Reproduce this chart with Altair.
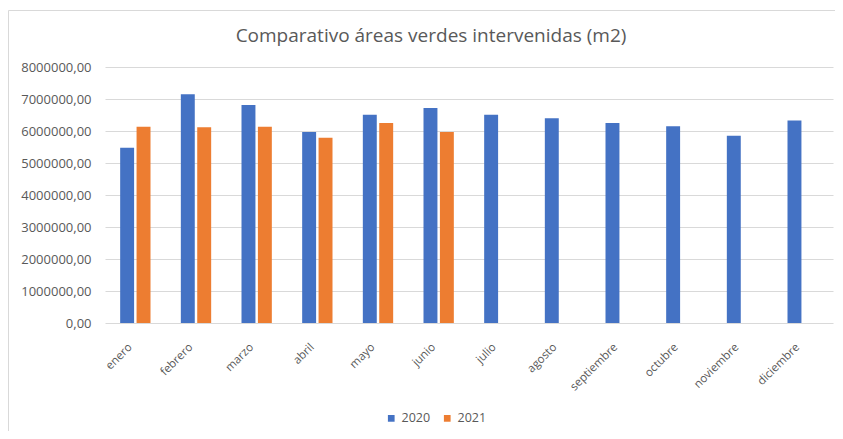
import altair as alt
import pandas as pd

months = ["enero", "febrero", "marzo", "abril", "mayo", "junio", "julio",
          "agosto", "septiembre", "octubre", "noviembre", "diciembre"]
v2020 = [5480000, 7150000, 6810000, 5970000, 6510000, 6720000, 6510000,
         6400000, 6250000, 6150000, 5850000, 6330000]
v2021 = [6130000, 6120000, 6130000, 5790000, 6250000, 5970000]

rows = []
for m, v in zip(months, v2020):
    rows.append({"mes": m, "serie": "2020", "valor": v})
for m, v in zip(months, v2021):
    rows.append({"mes": m, "serie": "2021", "valor": v})
df = pd.DataFrame(rows)

FONT = "Open Sans"
GRAY = "#595959"

bars = alt.Chart(df).mark_bar().encode(
    x=alt.X("mes:N", sort=months, title=None,
            scale=alt.Scale(paddingInner=0.5, paddingOuter=0.25),
            axis=alt.Axis(labelAngle=-45, labelAlign="right", labelBaseline="top",
                          ticks=False, domain=False, labelOffset=-9,
                          labelColor=GRAY, labelFontSize=11.5, labelFont=FONT,
                          labelPadding=18)),
    xOffset=alt.XOffset("serie:N", scale=alt.Scale(paddingInner=0.15)),
    y=alt.Y("valor:Q", title=None,
            scale=alt.Scale(domain=[0, 8000000]),
            axis=alt.Axis(values=[i * 1000000 for i in range(9)],
                          labelExpr="replace(format(datum.value, '.2f'), '.', ',')",
                          ticks=False, domain=False, gridColor="#D9D9D9",
                          labelColor=GRAY, labelFontSize=13, labelFont=FONT,
                          labelPadding=14)),
    color=alt.Color("serie:N",
                    scale=alt.Scale(domain=["2020", "2021"], range=["#4472C4", "#ED7D31"]),
                    legend=alt.Legend(title=None, orient="none", direction="horizontal",
                                      legendX=280, legendY=345, symbolType="square",
                                      symbolSize=45, labelColor=GRAY, labelFontSize=12.5,
                                      labelFont=FONT, columnPadding=10, symbolStrokeWidth=0)),
)

frame = alt.Chart(pd.DataFrame({"k": [0]})).mark_rect(
    fill=None, stroke="#D9D9D9", strokeWidth=1
).encode(
    x=alt.value(-96.5), x2=alt.value(780), y=alt.value(-56.5), y2=alt.value(420)
)

chart = alt.layer(frame, bars).properties(
    width=728, height=256,
    title=alt.TitleParams("Comparativo áreas verdes intervenidas (m2)", fontSize=19,
                          font=FONT, fontWeight="normal", color=GRAY, dx=-38, offset=-36,
                          frame="group"),
    autosize=alt.AutoSizeParams(type="none"),
    padding={"left": 97, "top": 59, "right": 2, "bottom": 108},
).configure_view(stroke=None)

chart.save("out.html", embed_options={"renderer": "svg", "actions": False})
